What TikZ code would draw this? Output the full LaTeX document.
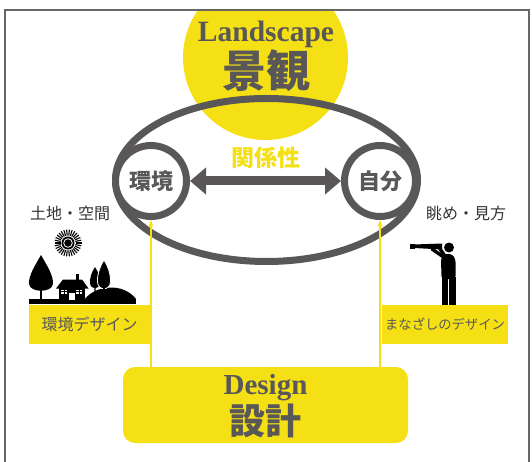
\documentclass[tikz,border=0pt]{standalone}
\usepackage{fontspec}
\setmainfont{Liberation Serif}
\newfontfamily\jp{Noto Sans CJK JP}
\usepackage{tikz}
\usetikzlibrary{arrows.meta}
\definecolor{keiYellow}{HTML}{F4E015}
\definecolor{keiGray}{HTML}{595757}

\begin{document}
\begin{tikzpicture}[x=1pt,y=-1pt,>={Triangle[length=16pt,width=26pt]},
                    semithick]
  \tikzstyle{ring}=[circle,draw=keiGray,line width=7pt,fill=white,minimum size=71pt,
                    inner sep=0pt,text=keiGray,font=\jp\bfseries\fontsize{22}{22}\selectfont]
  \tikzstyle{tag}=[fill=keiYellow,minimum height=39pt,inner sep=0pt,text=keiGray]
  \tikzstyle{note}=[text=black!80,font=\jp\fontsize{16}{16}\selectfont]
  \tikzstyle{pointer}=[draw=keiYellow,line width=1.2pt,-{Stealth[length=7pt,width=5pt]}]

  \useasboundingbox (0,0) rectangle (532,462);
  \clip (0,0) rectangle (532,462);

  % sun disc behind the title
  \begin{scope}
    \clip (5,10) rectangle (529,462);
    \fill[keiYellow] (265.5,57.5) circle (82.5);
  \end{scope}
  \draw[black!60,line width=1.3pt] (5,10) rectangle (529,480);

  \node[text=keiGray,font=\bfseries\fontsize{29.5}{29.5}\selectfont,anchor=base]
        (landEn) at (266,42) {Landscape};
  \node[text=keiGray,font=\jp\bfseries\fontsize{44}{44}\selectfont]
        (landJp) at (266,71) {景観};

  \draw[keiGray,line width=7pt] (266.5,180) ellipse [x radius=151,y radius=81.5];

  \node[ring] (kankyo) at (151,181) {環境};
  \node[ring] (jibun)  at (380,181) {自分};
  \node[text=keiYellow,font=\jp\bfseries\fontsize{23}{23}\selectfont]
        (kankeisei) at (266,157.5) {関係性};
  \draw[<->,keiGray,line width=9pt] (kankyo) -- (jibun);

  \node[note] (tochi) at (70,213)  {土地・空間};
  \node[note] (nagame) at (466,213) {眺め・見方};

  % design block and the two lines up to the rings
  \node[fill=keiYellow,rounded corners=12pt,minimum width=285pt,minimum height=76pt]
        (design) at (265.5,405) {};
  \node[text=keiGray,font=\bfseries\fontsize{29}{29}\selectfont,anchor=base]
        (designEn) at (265.5,394) {Design};
  \node[text=keiGray,font=\jp\bfseries\fontsize{36}{36}\selectfont]
        (designJp) at (265.5,421) {設計};
  \draw[pointer] (design.north -| kankyo.south) -- (kankyo.south);
  \draw[pointer] (design.north -| jibun.south) -- (jibun.south);

  \node[tag,minimum width=121pt,font=\jp\fontsize{16}{16}\selectfont]
        (kankyoTag) at (89.5,324.5) {環境デザイン};
  \node[tag,minimum width=126pt,font=\jp\fontsize{13.3}{14}\selectfont]
        (manazashiTag) at (445,324.5) {まなざしのデザイン};

  % landscape pictogram
  \begin{scope}[black]
    \fill (68,243) circle (6.5);
    \draw[white,line width=0.8pt] (68,243) circle (4.3);
    \foreach \a in {0,12,...,348}
      \draw[line width=1.1pt,shift={(68,243)}] (\a:7.5) -- (\a:13.5);
    \fill (29,299) rectangle (136,304);
    \fill (84,300) .. controls (96,284) and (124,283) .. (136,299) -- cycle;
    % big tree
    \fill (41,255) .. controls (46.5,265) and (53.5,275) .. (53,284)
          .. controls (52,293) and (30,293) .. (29,284)
          .. controls (28.5,275) and (35.5,265) .. (41,255);
    \fill (39.8,288) rectangle (42.4,300);
    % two small trees
    \fill (95,267) .. controls (98.5,272) and (100.5,279) .. (100,283)
          .. controls (99.5,290) and (90.5,290) .. (90,283)
          .. controls (89.5,279) and (91.5,272) .. (95,267);
    \draw[line width=1.2pt] (95,286) .. controls (94,292) and (97,294) .. (97,300);
    \filldraw[draw=white,line width=0.8pt] (104,260) .. controls (108.5,267) and (111,276) .. (110.5,282)
          .. controls (110,291) and (98,291) .. (97.5,282)
          .. controls (97,276) and (99.5,267) .. (104,260);
    \fill (102.8,287) rectangle (105.2,300);
    % house
    \fill (56,288.5) -- (63,279.5) -- (82,279.5) -- (88.5,288.5) -- cycle;
    \fill (76,274) rectangle (79,281);
    \fill (59,287) rectangle (85,300);
    \fill[white] (61,289.5) rectangle (67,293.5);
    \fill[white] (76,289.5) rectangle (82,293.5);
    \fill[white] (68.5,293) rectangle (74.5,300);
    \draw[black,line width=0.5pt] (64,289.5) -- (64,293.5) (61,291.5) -- (67,291.5)
                                  (79,289.5) -- (79,293.5) (76,291.5) -- (82,291.5);
  \end{scope}

  % man with a telescope
  \begin{scope}[black]
    \fill (449,247.5) circle (5);
    \fill (414,244.5) -- (442,243.5) -- (442,249.5) -- (414,248) -- cycle;
    \fill (410,244) rectangle (414.5,248.8);
    \draw[line width=3.4pt,line cap=round] (445,258) -- (432,249);
    \draw[line width=3.4pt,line cap=round] (447,259) -- (440,249);
    \fill[rounded corners=3pt] (441.5,279) -- (441,258) -- (444,254) -- (452,254)
          -- (455.5,259) -- (455.5,279) -- cycle;
    \fill (441.5,277) rectangle (448,305);
    \fill (449,277) rectangle (455.5,305);
  \end{scope}
\end{tikzpicture}
\end{document}
